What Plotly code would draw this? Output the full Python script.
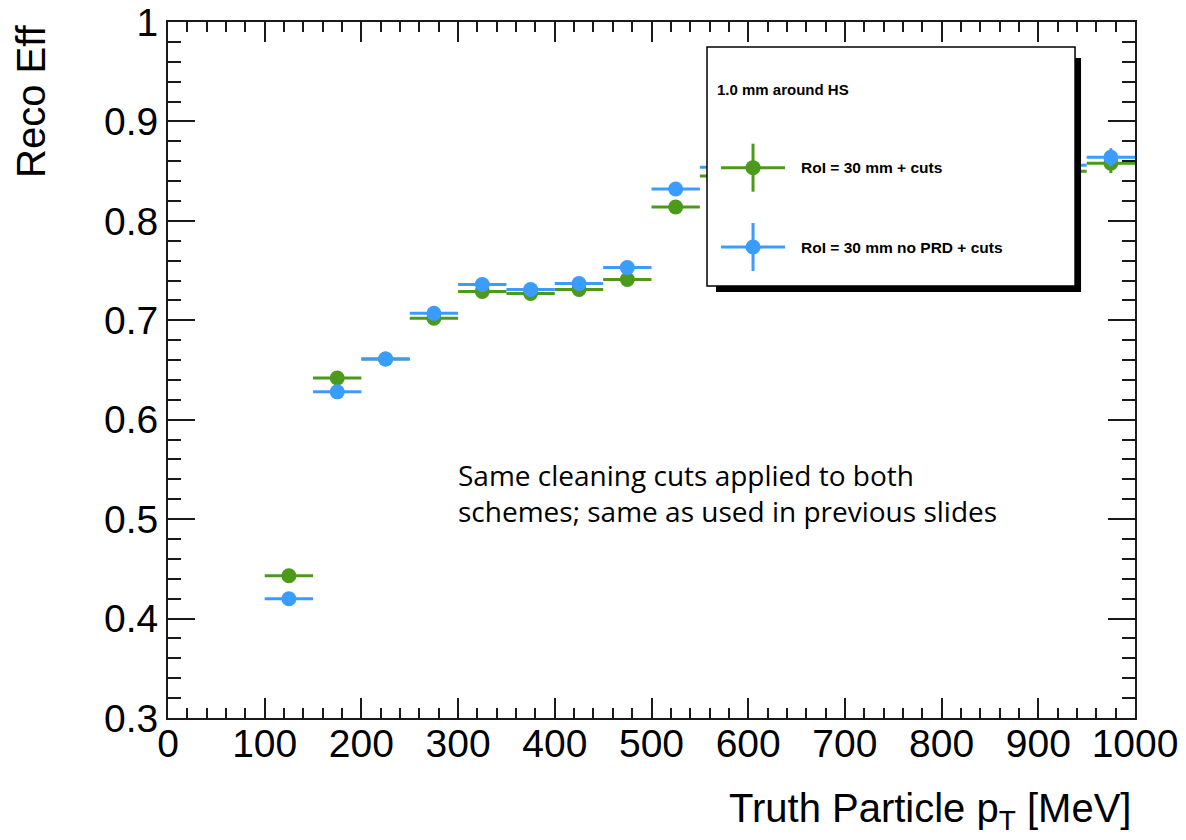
import plotly.graph_objects as go

# ---- data ----
pt_bins = [125, 175, 225, 275, 325, 375, 425, 475, 525, 575,
           625, 675, 725, 775, 825, 875, 925, 975]
bin_halfwidth = [25, 25, 25, 25, 25, 25, 25, 25, 25, 25,
                 25, 25, 25, 25, 25, 25, 25, 25]
eff_roi_cuts = [0.443, 0.642, 0.661, 0.702, 0.729, 0.727, 0.731, 0.741, 0.814, 0.845,
                0.848, 0.851, 0.853, 0.854, 0.853, 0.852, 0.850, 0.858]
err_roi_cuts = [0.005, 0.005, 0.005, 0.005, 0.005, 0.005, 0.005, 0.006, 0.006, 0.006,
                0.007, 0.007, 0.008, 0.008, 0.008, 0.009, 0.009, 0.010]
eff_noprd_cuts = [0.420, 0.628, 0.661, 0.707, 0.736, 0.731, 0.737, 0.753, 0.832, 0.854,
                  0.855, 0.857, 0.858, 0.859, 0.858, 0.857, 0.856, 0.864]
err_noprd_cuts = [0.005, 0.005, 0.005, 0.005, 0.005, 0.005, 0.005, 0.006, 0.006, 0.006,
                  0.007, 0.007, 0.007, 0.008, 0.008, 0.008, 0.009, 0.009]

series_names = ["RoI = 30 mm + cuts", "RoI = 30 mm no PRD + cuts"]
legend_header = "1.0 mm around HS"
x_ticks = [0, 100, 200, 300, 400, 500, 600, 700, 800, 900, 1000]
y_ticks = [0.3, 0.4, 0.5, 0.6, 0.7, 0.8, 0.9, 1.0]
y_ticktext = ["0.3", "0.4", "0.5", "0.6", "0.7", "0.8", "0.9", "1"]
note_text = "Same cleaning cuts applied to both<br>schemes; same as used in previous slides"

GREEN = "#4b9a1a"
BLUE = "#3a9cff"
AXIS = "#1a1a1a"
FONT = "Liberation Sans, Arial, Helvetica, sans-serif"

fig = go.Figure()
for y, err, col, name in [(eff_roi_cuts, err_roi_cuts, GREEN, series_names[0]),
                          (eff_noprd_cuts, err_noprd_cuts, BLUE, series_names[1])]:
    fig.add_trace(go.Scatter(
        x=pt_bins, y=y, mode="markers", name=name,
        marker=dict(color=col, size=15, symbol="circle", line=dict(width=0)),
        error_x=dict(type="data", array=bin_halfwidth, color=col, thickness=3, width=0),
        error_y=dict(type="data", array=err, color=col, thickness=3, width=0),
    ))

axis_common = dict(
    showline=True, linewidth=2, linecolor=AXIS, mirror="ticks",
    ticks="inside", tickwidth=2, tickcolor=AXIS,
    showgrid=False, zeroline=False, automargin=False,
    tickfont=dict(family=FONT, size=39, color="black"),
)
fig.update_xaxes(range=[0, 1000], tickvals=x_ticks, ticklen=20, ticklabelstandoff=-10,
                 minor=dict(dtick=20, ticklen=10, ticks="inside", tickwidth=2, tickcolor=AXIS),
                 **axis_common)
fig.update_yaxes(range=[0.3, 1.0], tickvals=y_ticks, ticktext=y_ticktext, ticklen=27,
                 ticklabelstandoff=0,
                 minor=dict(dtick=0.02, ticklen=13, ticks="inside", tickwidth=2, tickcolor=AXIS),
                 **axis_common)

# ---- legend box (ROOT-style with drop shadow) ----
shapes = [
    dict(type="rect", xref="paper", yref="paper", x0=0.5667, x1=0.9442, y0=0.6121, y1=0.9483,
         fillcolor="black", line=dict(width=0), layer="above"),
    dict(type="rect", xref="paper", yref="paper", x0=0.5574, x1=0.9380, y0=0.6207, y1=0.9641,
         fillcolor="white", line=dict(color="black", width=1.5), layer="above"),
]
annotations = [
    dict(text="<b>" + legend_header + "</b>", xref="paper", yref="paper", x=0.5657, y=0.9037,
         xanchor="left", yanchor="middle", showarrow=False,
         font=dict(family=FONT, size=15, color="black")),
]
for yc, col, name in [(0.7907, GREEN, series_names[0]), (0.6767, BLUE, series_names[1])]:
    xc = 0.6050
    shapes.append(dict(type="line", xref="paper", yref="paper", x0=0.5719, x1=0.6381, y0=yc, y1=yc,
                       line=dict(color=col, width=3), layer="above"))
    shapes.append(dict(type="line", xref="paper", yref="paper", x0=xc, x1=xc, y0=yc - 0.0345, y1=yc + 0.0345,
                       line=dict(color=col, width=3), layer="above"))
    shapes.append(dict(type="circle", xref="paper", yref="paper", x0=xc - 0.0078, x1=xc + 0.0078,
                       y0=yc - 0.0108, y1=yc + 0.0108, fillcolor=col, line=dict(width=0), layer="above"))
    annotations.append(dict(text="<b>" + name + "</b>", xref="paper", yref="paper", x=0.6525, y=yc,
                            xanchor="left", yanchor="middle", showarrow=False,
                            font=dict(family=FONT, size=15.5, color="black")))

# axis titles
annotations.append(dict(text="Truth Particle p<sub>T</sub> [MeV]", xref="paper", yref="paper",
                        x=0.998, y=-0.095, xanchor="right", yanchor="top", showarrow=False,
                        font=dict(family=FONT, size=40, color="black")))
annotations.append(dict(text="Reco Eff", xref="paper", yref="paper", textangle=-90,
                        x=-0.1417, y=1.0, xanchor="center", yanchor="top", showarrow=False,
                        font=dict(family=FONT, size=40, color="black")))
# slide note
annotations.append(dict(text=note_text, xref="paper", yref="paper", x=0.2978, y=0.3233,
                        xanchor="left", yanchor="middle", align="left", showarrow=False,
                        font=dict(family="Open Sans, sans-serif", size=28, color="black")))

fig.update_layout(
    width=1186, height=840,
    margin=dict(l=168, r=51, t=22, b=122),
    plot_bgcolor="white", paper_bgcolor="white",
    showlegend=False,
    shapes=shapes, annotations=annotations,
    font=dict(family=FONT, color="black"),
)

fig.write_html("out.html")
